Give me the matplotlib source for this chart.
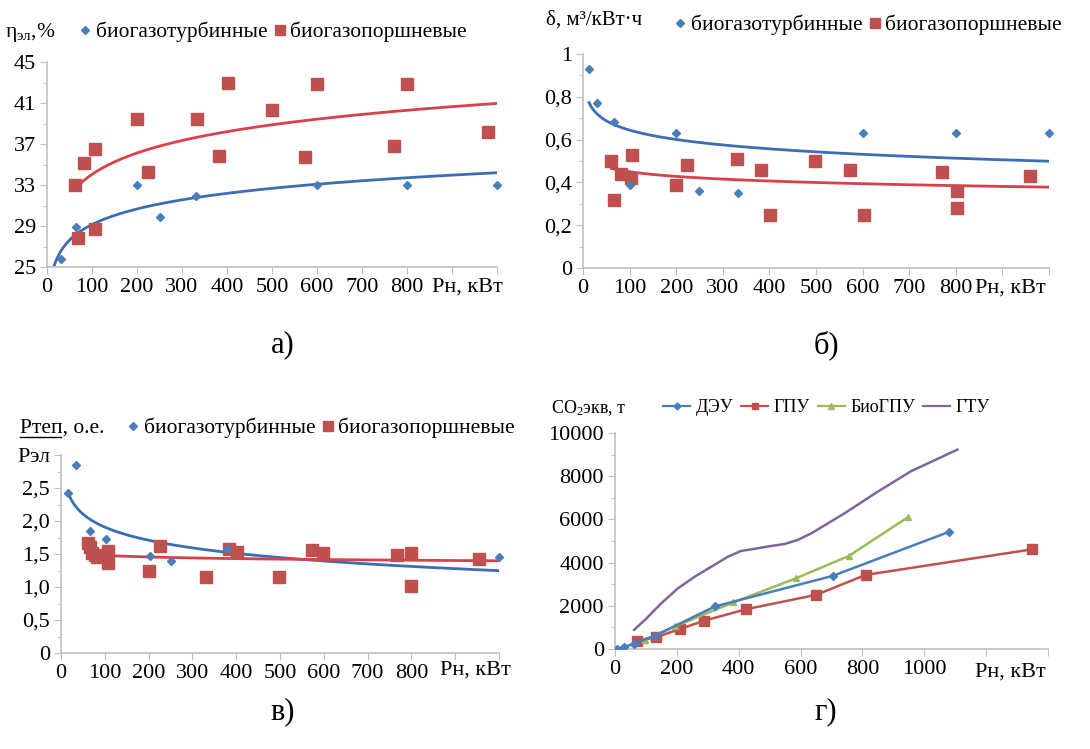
import numpy as np
import matplotlib
matplotlib.use("Agg")
import matplotlib.pyplot as plt
from matplotlib.lines import Line2D
from matplotlib.ticker import MultipleLocator, FixedLocator

plt.rcParams['font.family'] = ['Liberation Serif', 'DejaVu Serif']
plt.rcParams['mathtext.fontset'] = 'custom'
plt.rcParams['mathtext.rm'] = 'Liberation Serif'
plt.rcParams['mathtext.it'] = 'Liberation Serif:italic'

# ---------------- data ----------------
# a) electrical efficiency, %
a_turb_x = [30, 65, 200, 250, 330, 600, 800, 1000]
a_turb_y = [25.8, 28.9, 33.0, 29.9, 31.9, 33.0, 33.0, 33.0]
a_pist_x = [62, 68, 83, 106, 107, 200, 224, 333, 382, 402, 499, 573, 601, 770, 801, 981]
a_pist_y = [33.0, 27.8, 35.1, 36.5, 28.7, 39.4, 34.3, 39.4, 35.8, 43.0, 40.3, 35.7, 42.9, 36.8, 42.9, 38.2]
a_turb_trend_x = [15, 65, 200, 400, 600, 800, 1000]
a_turb_trend_y = [25.0, 28.25, 30.6, 32.05, 33.0, 33.8, 34.3]
a_pist_trend_x = [62, 200, 400, 600, 800, 1000]
a_pist_trend_y = [32.6, 36.1, 38.2, 39.5, 40.3, 40.9]
a_yticks = [25, 29, 33, 37, 41, 45]

# б) specific biogas consumption
b_turb_x = [13, 30, 67, 100, 200, 250, 333, 600, 800, 1000]
b_turb_y = [0.93, 0.77, 0.68, 0.39, 0.63, 0.36, 0.35, 0.63, 0.63, 0.63]
b_pist_x = [61, 67, 81, 104, 106, 200, 224, 330, 382, 401, 498, 573, 604, 770, 802, 802, 960]
b_pist_y = [0.50, 0.32, 0.44, 0.42, 0.53, 0.39, 0.48, 0.51, 0.46, 0.25, 0.50, 0.46, 0.25, 0.45, 0.36, 0.28, 0.43]
b_turb_trend_x = [13, 67, 200, 400, 600, 800, 1000]
b_turb_trend_y = [0.760, 0.685, 0.605, 0.566, 0.532, 0.507, 0.488]
b_pist_trend_x = [61, 200, 400, 600, 800, 1000]
b_pist_trend_y = [0.460, 0.434, 0.411, 0.395, 0.384, 0.372]
b_yticklabels = ['0', '0,2', '0,4', '0,6', '0,8', '1']

# в) heat / electricity ratio
c_turb_x = [17, 34, 66, 103, 203, 252, 380, 1000]
c_turb_y = [2.42, 2.85, 1.85, 1.72, 1.47, 1.40, 1.57, 1.46]
c_pist_x = [62, 66, 70, 78, 83, 108, 108, 201, 226, 332, 384, 401, 498, 574, 598, 767, 800, 800, 954]
c_pist_y = [1.67, 1.60, 1.52, 1.48, 1.46, 1.54, 1.36, 1.25, 1.62, 1.15, 1.58, 1.53, 1.15, 1.56, 1.52, 1.49, 1.52, 1.01, 1.42]
c_turb_trend_x = [17, 66, 100, 200, 400, 600, 800, 1000]
c_turb_trend_y = [2.38, 2.05, 1.92, 1.72, 1.54, 1.41, 1.29, 1.21]
c_pist_trend_x = [62, 200, 400, 600, 800, 1000]
c_pist_trend_y = [1.49, 1.46, 1.44, 1.42, 1.40, 1.39]
c_yticklabels = ['0', '0,5', '1,0', '1,5', '2,0', '2,5', 'Рэл']

# г) CO2 equivalent, t
d_deu_x = [5, 30, 60, 130, 323, 704, 1081]
d_deu_y = [0, 80, 250, 620, 1970, 3385, 5430]
d_gpu_x = [70, 134, 210, 288, 425, 651, 810, 1349]
d_gpu_y = [354, 554, 923, 1308, 1846, 2508, 3430, 4615]
d_bio_x = [97, 194, 382, 586, 756, 946]
d_bio_y = [430, 1046, 2154, 3277, 4308, 6092]
d_gtu_x = [62, 97, 150, 204, 258, 312, 366, 408, 441, 505, 548, 591, 634, 688, 742, 849, 957, 1107]
d_gtu_y = [890, 1350, 2120, 2815, 3350, 3815, 4280, 4540, 4615, 4770, 4860, 5050, 5350, 5815, 6280, 7280, 8230, 9230]
d_labels = ['ДЭУ', 'ГПУ', 'БиоГПУ', 'ГТУ']

lab_turb = 'биогазотурбинные'
lab_pist = 'биогазопоршневые'

# ---------------- style ----------------
W, H = 1090, 749
fig = plt.figure(figsize=(W / 100, H / 100), dpi=100)
BLUE = '#4A7EBB'
RED = '#C0504D'
GREEN = '#9BBB59'
PURPLE = '#8064A2'
BLUE_TR = '#3A6DB5'
RED_TR = '#D9404A'
AX = '#BFBFBF'
FS = 16
FL = 15.5


def ax_at(x0, x1, y0, y1):
    return fig.add_axes([x0 / W, 1 - y0 / H, (x1 - x0) / W, (y0 - y1) / H])


def style(ax):
    for s in ('top', 'right'):
        ax.spines[s].set_visible(False)
    for s in ('left', 'bottom'):
        ax.spines[s].set_color(AX)
        ax.spines[s].set_linewidth(1.2)
    ax.tick_params(which='both', direction='out', color=AX, labelsize=FS, pad=3)
    ax.tick_params(which='major', length=5)
    ax.tick_params(which='minor', length=3)
    ax.set_facecolor('none')


def trend(ax, xs, ys, color, x_from, x_to):
    k, b = np.polyfit(np.log(xs), ys, 1)
    xx = np.linspace(x_from, x_to, 300)
    ax.plot(xx, k * np.log(xx) + b, color=color, lw=2.0, zorder=2)


def scatter_pair(ax, tx, ty, px, py):
    ax.plot(px, py, 's', color=RED, ms=8, mec=RED, zorder=3, clip_on=False)
    ax.plot(tx, ty, 'D', color=BLUE, ms=4.5, mec=BLUE, zorder=4, clip_on=False)


def xaxis_1000(ax):
    ax.set_xlim(0, 1000)
    ax.xaxis.set_major_locator(FixedLocator(np.arange(0, 1001, 100)))
    ax.set_xticklabels([str(v) if v <= 800 else '' for v in range(0, 1001, 100)])


def legend2(x, y, fs=FL):
    h1 = Line2D([], [], ls='none', marker='D', color=BLUE, ms=4.5)
    h2 = Line2D([], [], ls='none', marker='s', color=RED, ms=7)
    fig.legend([h1, h2], [lab_turb, lab_pist], loc='center left',
               bbox_to_anchor=(x / W, 1 - y / H), ncol=2, frameon=False,
               handlelength=0.5, handletextpad=0.25, columnspacing=0.3,
               borderpad=0, borderaxespad=0, fontsize=fs)


# ---------------- a) ----------------
axa = ax_at(47, 497, 267, 62)
style(axa)
scatter_pair(axa, a_turb_x, a_turb_y, a_pist_x, a_pist_y)
trend(axa, a_turb_trend_x, a_turb_trend_y, BLUE_TR, 15, 1000)
trend(axa, a_pist_trend_x, a_pist_trend_y, RED_TR, 62, 1000)
xaxis_1000(axa)
axa.set_ylim(25, 45)
axa.set_yticks(a_yticks)
axa.yaxis.set_minor_locator(FixedLocator(np.arange(25, 46, 2)))
fig.text(5 / W, 1 - 32 / H, r'$\mathrm{\eta}_{\mathrm{эл}}$,%', fontsize=FL, va='center')
legend2(80, 32)
fig.text(432 / W, 1 - 287 / H, 'Рн, кВт', fontsize=FS, va='center')
fig.text(283 / W, 1 - 345 / H, 'а)', fontsize=22, ha='center', va='center')

# ---------------- б) ----------------
axb = ax_at(583, 1049, 268, 54)
style(axb)
scatter_pair(axb, b_turb_x, b_turb_y, b_pist_x, b_pist_y)
trend(axb, b_turb_trend_x, b_turb_trend_y, BLUE_TR, 13, 1000)
trend(axb, b_pist_trend_x, b_pist_trend_y, RED_TR, 61, 1000)
xaxis_1000(axb)
axb.set_ylim(0, 1)
axb.set_yticks(np.arange(0, 1.01, 0.2))
axb.set_yticklabels(b_yticklabels)
axb.yaxis.set_minor_locator(MultipleLocator(0.1))
fig.text(546 / W, 1 - 20 / H, 'δ, м³/кВт·ч', fontsize=FS - 1, va='center')
legend2(675, 25)
fig.text(975 / W, 1 - 288 / H, 'Рн, кВт', fontsize=FS, va='center')
fig.text(826 / W, 1 - 345 / H, 'б)', fontsize=22, ha='center', va='center')

# ---------------- в) ----------------
axc = ax_at(61, 499, 653, 455)
style(axc)
scatter_pair(axc, c_turb_x, c_turb_y, c_pist_x, c_pist_y)
trend(axc, c_turb_trend_x, c_turb_trend_y, BLUE_TR, 17, 1000)
trend(axc, c_pist_trend_x, c_pist_trend_y, RED_TR, 62, 1000)
xaxis_1000(axc)
axc.set_ylim(0, 3)
axc.set_yticks(np.arange(0, 3.01, 0.5))
axc.set_yticklabels(c_yticklabels)
axc.yaxis.set_minor_locator(MultipleLocator(0.25))
fig.text(20 / W, 1 - 428 / H, 'Ртеп, о.е.', fontsize=FL, va='center')
fig.add_artist(Line2D([20 / W, 61 / W], [1 - 437 / H, 1 - 437 / H], color='black', lw=1))
legend2(128, 428)
fig.text(440 / W, 1 - 670 / H, 'Рн, кВт', fontsize=FS, va='center')
fig.text(283 / W, 1 - 712 / H, 'в)', fontsize=22, ha='center', va='center')

# ---------------- г) ----------------
axd = ax_at(615, 1048, 649, 433)
style(axd)
l1, = axd.plot(d_deu_x, d_deu_y, '-D', color=BLUE, ms=4, lw=1.8, zorder=4)
l2, = axd.plot(d_gpu_x, d_gpu_y, '-s', color=RED, ms=6.5, lw=1.8, zorder=3)
l3, = axd.plot(d_bio_x, d_bio_y, '-^', color=GREEN, ms=5, lw=1.8, zorder=3)
l4, = axd.plot(d_gtu_x, d_gtu_y, '-', color=PURPLE, lw=1.8, zorder=2)
axd.set_xlim(0, 1400)
axd.set_ylim(0, 10000)
axd.xaxis.set_major_locator(FixedLocator(np.arange(0, 1401, 200)))
axd.set_xticklabels([str(v) if v <= 1000 else '' for v in range(0, 1401, 200)])
axd.yaxis.set_major_locator(MultipleLocator(2000))
axd.yaxis.set_minor_locator(MultipleLocator(1000))
fig.text(551 / W, 1 - 408 / H, r'CO$_2$экв, т', fontsize=13, va='center')
h1 = Line2D([], [], color=BLUE, marker='D', ms=3.5, lw=1.6)
h2 = Line2D([], [], color=RED, marker='s', ms=5, lw=1.6)
h3 = Line2D([], [], color=GREEN, marker='^', ms=4, lw=1.6)
h4 = Line2D([], [], color=PURPLE, lw=1.6)
fig.legend([h1, h2, h3, h4], d_labels, loc='center left',
           bbox_to_anchor=(663 / W, 1 - 408 / H), ncol=4, frameon=False,
           handlelength=1.5, handletextpad=0.3, columnspacing=0.45,
           borderpad=0, borderaxespad=0, fontsize=13)
fig.text(975 / W, 1 - 672 / H, 'Рн, кВт', fontsize=FS, va='center')
fig.text(826 / W, 1 - 712 / H, 'г)', fontsize=22, ha='center', va='center')

fig.savefig('out.png', dpi=100, facecolor='white')
